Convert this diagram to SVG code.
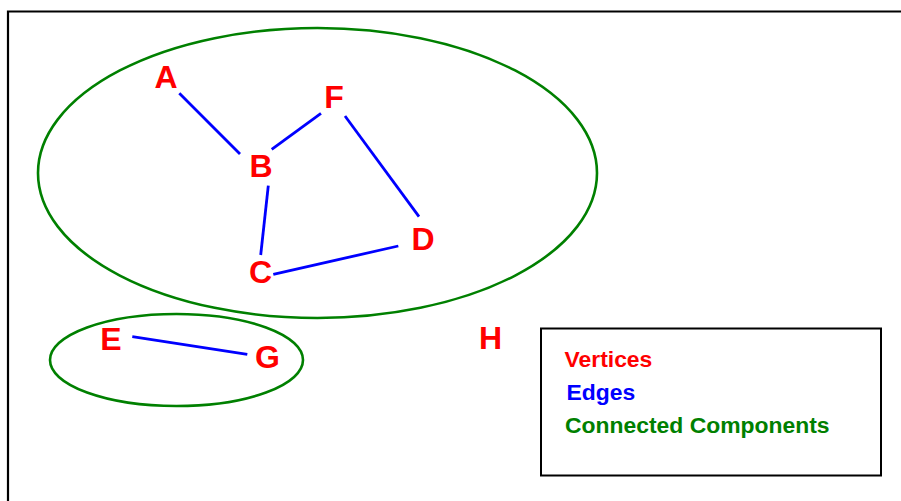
<svg xmlns="http://www.w3.org/2000/svg" width="901" height="501" viewBox="0 0 901 501">
<style>
.v{font-family:"Liberation Sans",Arial,sans-serif;font-weight:bold;font-size:32px;fill:#FF0000;text-anchor:middle}
.lg{font-family:"Liberation Sans",Arial,sans-serif;font-weight:bold;font-size:22.9px}
.e{stroke:#0000FF;stroke-width:2.8;fill:none}
.cc{stroke:#008000;stroke-width:2.6;fill:none}
</style>
<rect width="901" height="501" fill="#FFFFFF"/>
<path d="M8,501 V11.5 H901" fill="none" stroke="#000" stroke-width="2.2"/>
<g id="components">
<ellipse id="cc1" class="cc" cx="317.5" cy="173" rx="279.5" ry="145"/>
<ellipse id="cc2" class="cc" cx="176.5" cy="360" rx="126.5" ry="46"/>
</g>
<g id="edges">
<line class="e" x1="179.3" y1="93.3" x2="240" y2="154"/>
<line class="e" x1="271.7" y1="149.3" x2="321" y2="113.3"/>
<line class="e" x1="345" y1="116" x2="419" y2="216.7"/>
<line class="e" x1="268.3" y1="185.7" x2="260.7" y2="255"/>
<line class="e" x1="273.3" y1="274.3" x2="398.3" y2="246"/>
<line class="e" x1="132.3" y1="336.7" x2="247.3" y2="354.3"/>
</g>
<g id="A"><text class="v" x="166" y="88">A</text></g>
<g id="B"><text class="v" x="261" y="177">B</text></g>
<g id="F"><text class="v" x="334" y="108">F</text></g>
<g id="D"><text class="v" x="423" y="250">D</text></g>
<g id="C"><text class="v" x="260.5" y="283">C</text></g>
<g id="E"><text class="v" x="111" y="350">E</text></g>
<g id="G"><text class="v" x="267.5" y="368">G</text></g>
<g id="H"><text class="v" x="490.5" y="349">H</text></g>
<g id="legend">
<rect x="541" y="328.5" width="340" height="147" fill="none" stroke="#000" stroke-width="2"/>
<text class="lg" x="564.5" y="366.5" fill="#FF0000">Vertices</text>
<text class="lg" x="566.5" y="400" fill="#0000FF">Edges</text>
<text class="lg" x="565" y="433.3" fill="#008000">Connected Components</text>
</g>
</svg>
